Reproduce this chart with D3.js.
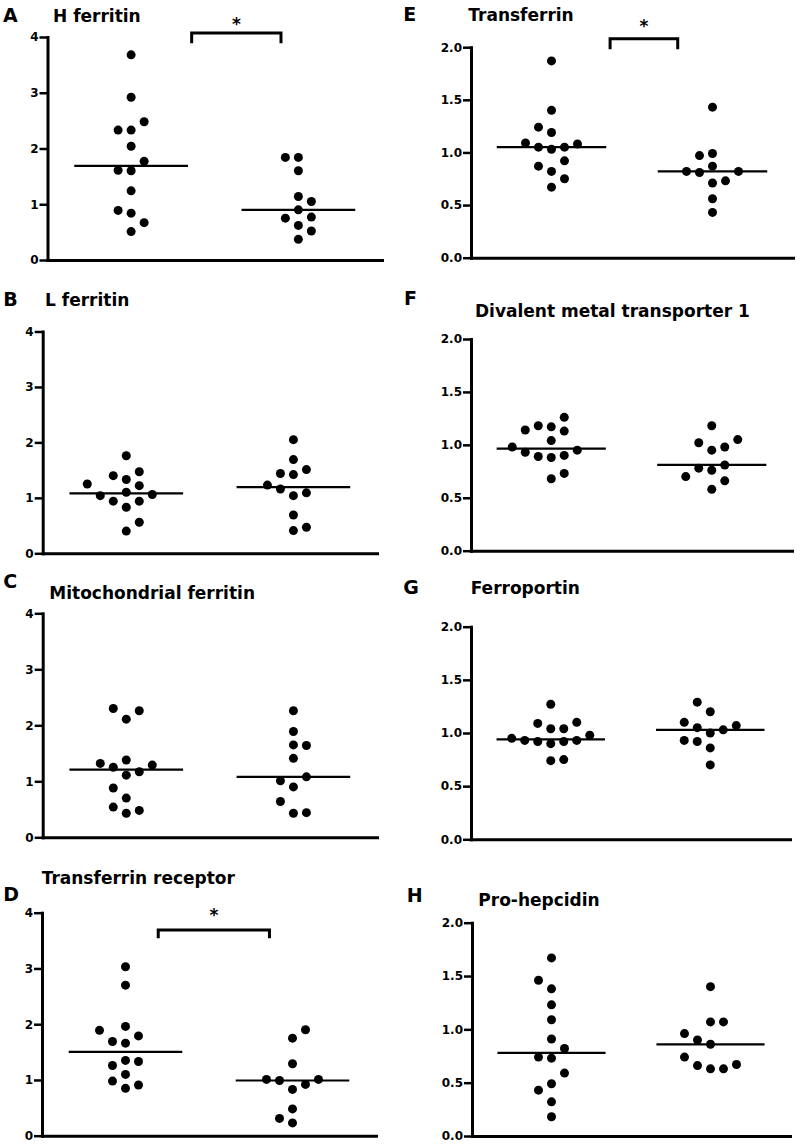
<!DOCTYPE html>
<html>
<head>
<meta charset="utf-8">
<script src="https://cdn.jsdelivr.net/npm/d3@7"></script>
<style>
  body { margin: 0; background: #fff; }
  svg { display: block; }
  text { font-family: "DejaVu Sans", sans-serif; font-weight: bold; fill: #000; }
</style>
</head>
<body>
<svg id="chart" width="800" height="1145"></svg>
<script>
// ---------- DATA (relative expression values) ----------
const groups = ["Group 1", "Group 2"];

const hFerritinG1 = [3.68, 2.92, 2.33, 2.04, 1.60, 1.24, 0.84, 0.51, 2.33, 2.48, 1.61, 1.77, 0.89, 0.67];
const hFerritinG2 = [1.84, 1.60, 1.14, 0.90, 0.62, 0.37, 1.84, 1.05, 0.75, 0.52, 0.77];

const lFerritinG1 = [1.76, 1.33, 1.10, 0.83, 0.40, 1.40, 0.56, 1.47, 1.22, 0.94, 0.94, 1.04, 1.06, 1.25];
const lFerritinG2 = [2.05, 1.69, 1.42, 1.04, 0.69, 0.41, 1.44, 1.51, 1.16, 0.47, 1.09, 1.23];

const mtFerritinG1 = [2.11, 1.38, 1.11, 0.70, 0.43, 2.30, 2.26, 1.25, 1.17, 0.88, 0.48, 0.54, 1.32, 1.29];
const mtFerritinG2 = [2.26, 1.89, 1.65, 1.41, 0.90, 0.43, 0.64, 1.64, 1.01, 1.08, 0.44];

const tfReceptorG1 = [3.03, 2.70, 1.96, 1.66, 1.35, 1.10, 0.85, 1.69, 1.79, 1.26, 1.33, 0.98, 0.91, 1.89];
const tfReceptorG2 = [1.75, 1.29, 0.83, 0.48, 0.23, 0.99, 1.90, 0.92, 0.31, 1.01, 1.01];

const transferrinG1 = [1.87, 1.40, 1.19, 1.03, 0.82, 0.67, 1.24, 1.05, 1.05, 0.92, 0.87, 0.75, 1.09, 1.08];
const transferrinG2 = [1.43, 0.99, 0.87, 0.71, 0.56, 0.43, 0.97, 0.73, 0.81, 0.82, 0.82];

const dmt1G1 = [1.17, 1.04, 0.88, 0.68, 1.18, 0.73, 1.26, 1.13, 0.89, 0.90, 0.93, 0.95, 0.98, 1.14];
const dmt1G2 = [1.18, 0.95, 0.76, 0.58, 1.02, 0.66, 0.98, 0.78, 0.81, 0.70, 1.05];

const ferroportinG1 = [1.27, 1.04, 0.90, 0.74, 1.09, 1.04, 0.92, 0.75, 0.92, 0.93, 1.10, 0.93, 0.95, 0.98];
const ferroportinG2 = [1.20, 1.00, 0.86, 0.70, 1.29, 1.03, 1.05, 0.92, 1.10, 1.07, 0.93];

const proHepcidinG1 = [1.67, 1.38, 1.23, 1.09, 0.91, 0.73, 0.49, 0.32, 0.18, 1.46, 0.82, 0.74, 0.59, 0.43];
const proHepcidinG2 = [1.40, 1.07, 0.86, 0.63, 0.90, 1.07, 0.96, 0.66, 0.63, 0.67, 0.74];

const ticks4 = [0, 1, 2, 3, 4];
const ticks2 = [0, 0.5, 1.0, 1.5, 2.0];

const panelIds    = ["A", "B", "C", "D", "E", "F", "G", "H"];
const panelTitles = ["H ferritin", "L ferritin", "Mitochondrial ferritin", "Transferrin receptor",
                     "Transferrin", "Divalent metal transporter 1", "Ferroportin", "Pro-hepcidin"];
const panelSeries = [
  [hFerritinG1, hFerritinG2], [lFerritinG1, lFerritinG2], [mtFerritinG1, mtFerritinG2],
  [tfReceptorG1, tfReceptorG2], [transferrinG1, transferrinG2], [dmt1G1, dmt1G2],
  [ferroportinG1, ferroportinG2], [proHepcidinG1, proHepcidinG2]
];
const panelTicks = [ticks4, ticks4, ticks4, ticks4, ticks2, ticks2, ticks2, ticks2];
const panelFormat = ["d", "d", "d", "d", ".1f", ".1f", ".1f", ".1f"];

// significance brackets (axis fraction from/to, y values in data units)
const sigPanel = ["A", "D", "E"];
const sigFrom  = [0.431, 0.348, 0.432];
const sigTo    = [0.698, 0.681, 0.642];
const sigTop   = [4.07, 3.69, 2.08];
const sigFoot  = [3.89, 3.54, 1.98];
const sigStar  = [4.30, 4.02, 2.23];

// ---------- LAYOUT ----------
const layout = {
  A: { x0: 47.5, x1: 382, yTop: 37,    yBot: 260,    letter: [3, 21.7],     title: [53, 21.5] },
  B: { x0: 42.7, x1: 377, yTop: 331.5, yBot: 553.3,  letter: [3.3, 305.7],  title: [45, 305.7] },
  C: { x0: 42.7, x1: 377, yTop: 613.3, yBot: 837.3,  letter: [3.3, 588.3],  title: [49.3, 599] },
  D: { x0: 42,   x1: 376, yTop: 912.7, yBot: 1135.7, letter: [3.3, 900.7],  title: [41.7, 884] },
  E: { x0: 471,  x1: 793, yTop: 47.2,  yBot: 257.7,  letter: [403.3, 21],   title: [468.3, 21] },
  F: { x0: 471,  x1: 792, yTop: 339,   yBot: 550.7,  letter: [404, 305],    title: [475, 316.7] },
  G: { x0: 471,  x1: 790, yTop: 626.7, yBot: 839.3,  letter: [403.3, 594],  title: [470.7, 594] },
  H: { x0: 472,  x1: 790, yTop: 922.7, yBot: 1136,   letter: [406.7, 901.7],title: [478.3, 906] }
};
const SLOT = 13;      // horizontal spacing of scattered dots
const GAP = 12.5;     // minimal vertical distance between dots in one slot
const R = 4.5;

// greedy column-scatter layout (computed, not stored)
function swarm(values, y) {
  const placed = new Map();
  const free = (s, py) => !(placed.get(s) || []).some(q => Math.abs(q - py) < GAP);
  const count = s => (placed.get(s) || []).length;
  return values.map(v => {
    const py = y(v);
    let slot = null;
    if (free(0, py)) slot = 0;
    for (let k = 1; slot === null && k < 8; k++) {
      const order = count(-k) <= count(k) ? [-k, k] : [k, -k];
      for (const s of order) { if (free(s, py)) { slot = s; break; } }
    }
    if (!placed.has(slot)) placed.set(slot, []);
    placed.get(slot).push(py);
    return { v, slot };
  });
}

const svg = d3.select("#chart");
svg.append("rect").attr("width", 800).attr("height", 1145).attr("fill", "#fff");

panelIds.forEach((id, pi) => {
  const L = layout[id];
  const g = svg.append("g");
  const yMax = d3.max(panelTicks[pi]);
  const y = d3.scaleLinear().domain([0, yMax]).range([L.yBot, L.yTop]);
  const x = d3.scaleBand().domain(groups).range([L.x0, L.x1]);
  const u = d3.scaleLinear().domain([0, 1]).range([L.x0, L.x1]);

  // axes
  const ya = g.append("g").attr("transform", `translate(${L.x0},0)`)
    .call(d3.axisLeft(y).tickValues(panelTicks[pi]).tickFormat(d3.format(panelFormat[pi]))
      .tickSize(8).tickPadding(1).tickSizeOuter(0));
  ya.attr("font-size", 12).attr("font-family", "DejaVu Sans").attr("font-weight", "bold");
  ya.select(".domain").attr("stroke", "#000").attr("stroke-width", 3).attr("stroke-linecap", "square");
  ya.selectAll(".tick line").attr("stroke", "#000").attr("stroke-width", 2.5);
  ya.selectAll(".tick text").attr("fill", "#000");

  const xa = g.append("g").attr("transform", `translate(0,${L.yBot})`)
    .call(d3.axisBottom(u).tickValues([]).tickSizeOuter(0));
  xa.select(".domain").attr("stroke", "#000").attr("stroke-width", 3).attr("stroke-linecap", "square");

  // titles
  g.append("text").attr("x", L.letter[0]).attr("y", L.letter[1]).attr("font-size", 19).text(id);
  g.append("text").attr("x", L.title[0]).attr("y", L.title[1]).attr("font-size", 17).text(panelTitles[pi]);

  // dots + medians
  const half = x.bandwidth() * 0.34;
  panelSeries[pi].forEach((vals, gi) => {
    const cx = x(groups[gi]) + x.bandwidth() / 2;
    const pts = swarm(vals, y);
    g.append("g").selectAll("circle").data(pts).join("circle")
      .attr("cx", d => cx + d.slot * SLOT)
      .attr("cy", d => y(d.v))
      .attr("r", R)
      .attr("fill", "#000");
    const m = d3.median(vals);
    g.append("line")
      .attr("x1", cx - half).attr("x2", cx + half)
      .attr("y1", y(m)).attr("y2", y(m))
      .attr("stroke", "#000").attr("stroke-width", 2.2);
  });

  // significance bracket
  sigPanel.forEach((sp, si) => {
    if (sp !== id) return;
    const xl = u(sigFrom[si]), xr = u(sigTo[si]);
    g.append("path")
      .attr("d", `M${xl},${y(sigFoot[si])}V${y(sigTop[si])}H${xr}V${y(sigFoot[si])}`)
      .attr("fill", "none").attr("stroke", "#000").attr("stroke-width", 3);
    g.append("text").attr("x", (xl + xr) / 2).attr("y", y(sigStar[si]) + 9.5)
      .attr("text-anchor", "middle").attr("font-size", 17).text("*");
  });
});
</script>
</body>
</html>
